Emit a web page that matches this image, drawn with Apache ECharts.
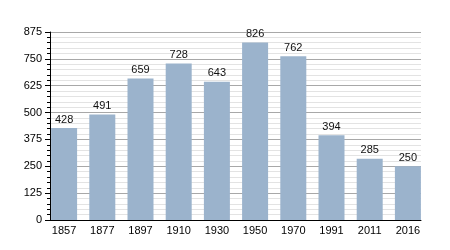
<!DOCTYPE html>
<html><head><meta charset="utf-8">
<script src="https://cdn.jsdelivr.net/npm/echarts@6/dist/echarts.min.js"></script>
<style>html,body{margin:0;padding:0;background:#fff}#c{width:450px;height:250px}</style>
</head><body><div id="c"></div>
<script>
const years = ['1857','1877','1897','1910','1930','1950','1970','1991','2011','2016'];
const population = [428, 491, 659, 728, 643, 826, 762, 394, 285, 250];
const yMax = 875;
const yStep = 125;

const chart = echarts.init(document.getElementById('c'), null, {renderer:'canvas'});
const font = 'Liberation Sans, Arial, sans-serif';
chart.setOption({
  animation: false,
  backgroundColor: '#fff',
  grid: [
    {left: 50, right: 29, top: 32, bottom: 30},
    {left: 45, right: 23, top: 32, bottom: 30}
  ],
  xAxis: [
    {gridIndex: 0, type: 'value', min: 0, max: 1, z: 10,
     axisLine: {show: true, lineStyle: {color: '#000', width: 1}},
     axisTick: {show: false}, axisLabel: {show: false}, splitLine: {show: false}},
    {gridIndex: 1, type: 'category', data: years,
     axisLine: {show: false}, axisTick: {show: false},
     axisLabel: {color: '#000', fontSize: 11, fontFamily: font, margin: 5}}
  ],
  yAxis: [
    {gridIndex: 0, type: 'value', min: 0, max: yMax, interval: yStep,
     axisLine: {show: true, lineStyle: {color: '#000', width: 1}},
     axisTick: {show: true, length: 5, lineStyle: {color: '#000'}},
     minorTick: {show: true, splitNumber: 5, length: 3, lineStyle: {color: '#000'}},
     axisLabel: {color: '#000', fontSize: 11, fontFamily: font, margin: 8},
     splitLine: {show: true, lineStyle: {color: '#a8a8a8', width: 1}},
     minorSplitLine: {show: true, lineStyle: {color: '#e3e3e3', width: 1}}},
    {gridIndex: 1, type: 'value', min: 0, max: yMax, show: false}
  ],
  series: [{
    type: 'bar', xAxisIndex: 1, yAxisIndex: 1,
    data: population, barWidth: 26,
    itemStyle: {color: '#9bb3cc'},
    label: {show: true, position: 'top', distance: 3, color: '#111', fontSize: 11, fontFamily: font}
  }]
});
</script></body></html>
